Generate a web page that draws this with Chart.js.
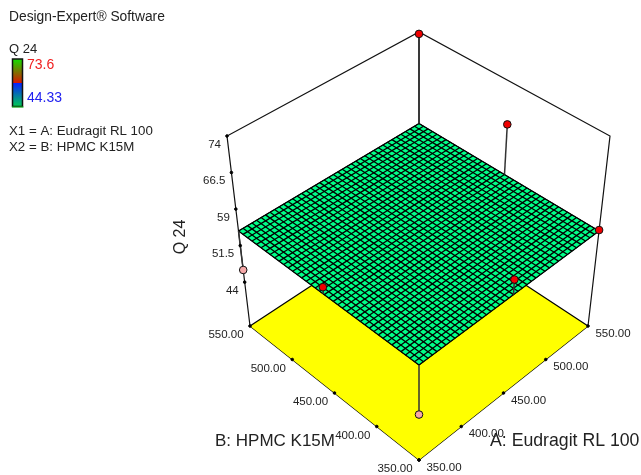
<!DOCTYPE html>
<html>
<head>
<meta charset="utf-8">
<style>
  html, body { margin: 0; padding: 0; background: #fff; }
  canvas { display: block; }
</style>
</head>
<body>
<canvas id="mychart" width="641" height="475"></canvas>
<script src="https://cdn.jsdelivr.net/npm/chart.js@4"></script>
<script>
// design points
const pointA = [350, 550, 350, 550, 455, 350]
const pointB = [350, 550, 550, 350, 350, 456]
const pointQ = [44.33, 73.6, 46.5, 54.7, 57.6, 55.9]
const pointBelow = [true, false, true, false, false, false]

// the point standing above the back right edge
const upperA = [550]
const upperB = [455]
const upperQ = [65]

// axis ticks
const ticksAB = [350, 400, 450, 500, 550]
const ticksQ = [44, 51.5, 59, 66.5, 74]
const ticksQLabels = ['44', '51.5', '59', '66.5', '74']

// response surface, flat model over the mesh
const surfaceQ = 54.5
const meshAB = [350, 355, 360, 365, 370, 375, 380, 385, 390, 395, 400, 405, 410, 415, 420, 425, 430, 435, 440, 445, 450,
  455, 460, 465, 470, 475, 480, 485, 490, 495, 500, 505, 510, 515, 520, 525, 530, 535, 540, 545, 550]

const floorQ = 35
const topQ = 74

// box corners on the page, order: front, right, left, back
const floorBox = [[419, 460], [588, 326], [250, 326], [419, 215]]
const topBox = [[419, 270], [610, 136], [227, 136], [419, 32]]

function corner(box, u, v, i) {
  return box[0][i] * (1 - u) * (1 - v) + box[1][i] * u * (1 - v) + box[2][i] * (1 - u) * v + box[3][i] * u * v
}

function project(a, b, q) {
  const u = (a - 350) / 200
  const v = (b - 350) / 200
  const w = (q - floorQ) / (topQ - floorQ)
  return {
    x: corner(floorBox, u, v, 0) * (1 - w) + corner(topBox, u, v, 0) * w,
    y: corner(floorBox, u, v, 1) * (1 - w) + corner(topBox, u, v, 1) * w
  }
}

function line(pts, color, width) {
  return { data: pts, showLine: true, borderColor: color, borderWidth: width, pointRadius: 0, fill: false, clip: false }
}

function dots(pts, color, border, radius) {
  return { data: pts, showLine: false, pointRadius: radius, pointBackgroundColor: color, pointBorderColor: border, pointBorderWidth: 1, clip: false }
}

const allA = pointA.concat(upperA)
const allB = pointB.concat(upperB)
const allQ = pointQ.concat(upperQ)
const allBelow = pointBelow.concat([false])

// first dataset is painted last
const datasets = []

datasets.push({
  data: allA.map((a, i) => project(a, allB[i], allQ[i])),
  showLine: false,
  pointRadius: 3.8,
  pointBackgroundColor: allBelow.map(b => b ? '#f6a8a8' : '#f00000'),
  pointBorderColor: '#111',
  pointBorderWidth: 1,
  clip: false
})

const tickDots = []
ticksAB.forEach(t => {
  tickDots.push(project(t, 350, floorQ))
  tickDots.push(project(350, t, floorQ))
})
ticksQ.forEach(q => tickDots.push(project(350, 550, q)))
datasets.push(dots(tickDots, '#000', '#000', 1.3))

allA.forEach((a, i) => {
  datasets.push(line([project(a, allB[i], surfaceQ), project(a, allB[i], allQ[i])], '#333', 1.5))
})

meshAB.forEach(m => {
  datasets.push(line([project(m, 350, surfaceQ), project(m, 550, surfaceQ)], '#000', 1.3))
  datasets.push(line([project(350, m, surfaceQ), project(550, m, surfaceQ)], '#000', 1.3))
})

const surfaceFill = '#00ff88'
datasets.push({ ...line([project(350, 550, surfaceQ), project(550, 550, surfaceQ), project(550, 350, surfaceQ)], '#000', 1), fill: '+1', backgroundColor: surfaceFill })
datasets.push(line([project(350, 550, surfaceQ), project(350, 350, surfaceQ), project(550, 350, surfaceQ)], '#000', 1))

datasets.push({ ...line([project(350, 550, floorQ), project(550, 550, floorQ), project(550, 350, floorQ)], '#000', 1.2), fill: '+1', backgroundColor: '#ffff00' })
datasets.push(line([project(350, 550, floorQ), project(350, 350, floorQ), project(550, 350, floorQ)], '#000', 1.2))

// back frame
datasets.push(line([project(350, 550, floorQ), project(350, 550, topQ), project(550, 550, topQ), project(550, 350, topQ), project(550, 350, floorQ)], '#111', 1.2))
datasets.push(line([project(550, 550, floorQ), project(550, 550, topQ)], '#111', 1.5))

const labelsPlugin = {
  id: 'labels',
  afterDraw(chart) {
    const ctx = chart.ctx
    const sx = chart.scales.x
    const sy = chart.scales.y
    const put = (s, x, y, font, color, align) => {
      ctx.font = font
      ctx.fillStyle = color
      ctx.textAlign = align || 'left'
      ctx.textBaseline = 'middle'
      ctx.fillText(s, x, y)
    }
    const fam = '"Liberation Sans", Arial, sans-serif'

    put('Design-Expert® Software', 9, 17, '13.8px ' + fam, '#222')
    put('Q 24', 9, 49.5, '13px ' + fam, '#222')
    put('73.6', 27, 65, '14px ' + fam, '#f02020')
    put('44.33', 27, 98, '14px ' + fam, '#2020f0')
    put('X1 = A: Eudragit RL 100', 9, 131, '13.3px ' + fam, '#222')
    put('X2 = B: HPMC K15M', 9, 147, '13.3px ' + fam, '#222')

    // colour key
    const g = ctx.createLinearGradient(0, 59, 0, 107)
    g.addColorStop(0, '#10e000')
    g.addColorStop(0.49, '#d81800')
    g.addColorStop(0.5, '#0820ff')
    g.addColorStop(1, '#00d050')
    ctx.fillStyle = g
    ctx.fillRect(12.5, 59, 10, 47.5)
    ctx.strokeStyle = '#111'
    ctx.lineWidth = 1.5
    ctx.strokeRect(12.5, 59, 10, 47.5)
    ctx.fillStyle = '#10d020'
    ctx.fillRect(12, 106.5, 11.5, 1)

    ticksAB.forEach(t => {
      const pa = project(t, 350, floorQ)
      put(t.toFixed(2), sx.getPixelForValue(pa.x) + 25, sy.getPixelForValue(pa.y) + 7.5, '11.5px ' + fam, '#222', 'center')
      const pb = project(350, t, floorQ)
      put(t.toFixed(2), sx.getPixelForValue(pb.x) - 24, sy.getPixelForValue(pb.y) + 9, '11.5px ' + fam, '#222', 'center')
    })
    ticksQ.forEach((q, i) => {
      const p = project(350, 550, q)
      put(ticksQLabels[i], sx.getPixelForValue(p.x) - 6, sy.getPixelForValue(p.y) + 8.5, '11.5px ' + fam, '#222', 'right')
    })

    put('B: HPMC K15M', 215, 441, '17px ' + fam, '#222')
    put('A: Eudragit RL 100', 490, 441, '17.7px ' + fam, '#222')

    ctx.save()
    ctx.translate(181, 237)
    ctx.rotate(-Math.PI / 2)
    put('Q 24', 0, 0, '16px ' + fam, '#222', 'center')
    ctx.restore()
  }
}

const chart = new Chart(document.getElementById('mychart').getContext('2d'), {
  type: 'scatter',
  data: { datasets: datasets },
  options: {
    responsive: false,
    animation: false,
    events: [],
    layout: { padding: 0, autoPadding: false },
    elements: { line: { tension: 0 } },
    plugins: { legend: { display: false }, tooltip: { enabled: false }, title: { display: false } },
    scales: {
      x: { type: 'linear', min: 0, max: 641, display: false },
      y: { type: 'linear', min: 0, max: 475, reverse: true, display: false }
    }
  },
  plugins: [labelsPlugin]
})
</script>
</body>
</html>
